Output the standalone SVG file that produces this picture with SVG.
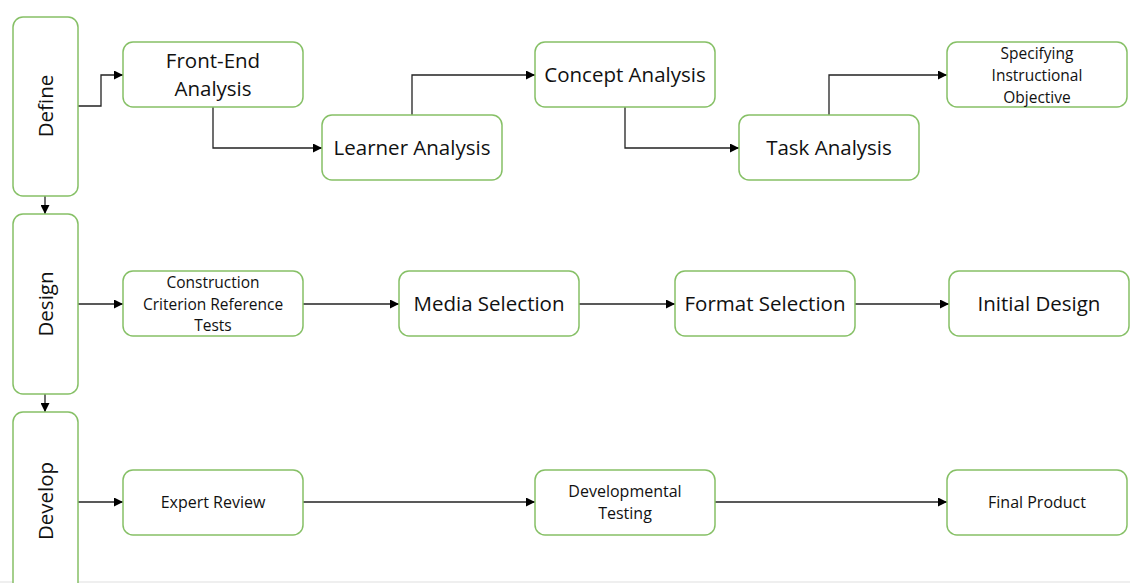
<svg xmlns="http://www.w3.org/2000/svg" width="1130" height="583" viewBox="0 0 1130 583">
  <defs>
    <marker id="arrow" viewBox="0 0 10 10" refX="10" refY="5" markerWidth="9" markerHeight="9" markerUnits="userSpaceOnUse" orient="auto">
      <path d="M0,0 L10,5 L0,10 z" fill="#000"/>
    </marker>
    <style>
      .box { fill: #fff; stroke: #86c066; stroke-width: 1.5; }
      .lbl { font-family: "Open Sans", "Noto Sans", "DejaVu Sans", sans-serif; fill: #111; text-anchor: middle; }
      .big { font-size: 20.5px; }
      .mid { font-size: 15.5px; }
      .sml { font-size: 16px; }
      .phase { font-size: 20.5px; }
      .conn { fill: none; stroke: #222; stroke-width: 1.3; marker-end: url(#arrow); }
    </style>
  </defs>
  <rect width="1130" height="583" fill="#fff"/>
  <rect x="0" y="581" width="1130" height="2" fill="#efefef"/>

  <g id="connectors">
    <path class="conn" d="M78,106 H101 V75 H123"/>
    <path class="conn" d="M213,107 V148 H322"/>
    <path class="conn" d="M412,115 V75 H535"/>
    <path class="conn" d="M625,107 V148 H739"/>
    <path class="conn" d="M829,115 V75 H947"/>
    <path class="conn" d="M45,196 V214"/>
    <path class="conn" d="M45,394 V412"/>
    <path class="conn" d="M78,304 H123"/>
    <path class="conn" d="M303,304 H399"/>
    <path class="conn" d="M579,304 H675"/>
    <path class="conn" d="M855,304 H949"/>
    <path class="conn" d="M78,502 H123"/>
    <path class="conn" d="M303,502 H535"/>
    <path class="conn" d="M715,502 H947"/>
  </g>

  <g id="define">
    <rect class="box" x="13" y="17" width="65" height="179" rx="10"/>
    <text class="lbl phase" transform="translate(53,106) rotate(-90)">Define</text>
  </g>
  <g id="design">
    <rect class="box" x="13" y="214" width="65" height="180" rx="10"/>
    <text class="lbl phase" transform="translate(53,304) rotate(-90)">Design</text>
  </g>
  <g id="develop">
    <rect class="box" x="13" y="412" width="65" height="200" rx="10"/>
    <text class="lbl phase" transform="translate(53,501) rotate(-90)">Develop</text>
  </g>

  <g id="front-end-analysis">
    <rect class="box" x="123" y="42" width="180" height="65" rx="10"/>
    <text class="lbl big" x="213" y="68">Front-End</text>
    <text class="lbl big" x="213" y="96">Analysis</text>
  </g>
  <g id="learner-analysis">
    <rect class="box" x="322" y="115" width="180" height="65" rx="10"/>
    <text class="lbl big" x="412" y="155">Learner Analysis</text>
  </g>
  <g id="concept-analysis">
    <rect class="box" x="535" y="42" width="180" height="65" rx="10"/>
    <text class="lbl big" x="625" y="82">Concept Analysis</text>
  </g>
  <g id="task-analysis">
    <rect class="box" x="739" y="115" width="180" height="65" rx="10"/>
    <text class="lbl big" x="829" y="155">Task Analysis</text>
  </g>
  <g id="specifying-instructional-objective">
    <rect class="box" x="947" y="42" width="180" height="65" rx="10"/>
    <text class="lbl mid" x="1037" y="59">Specifying</text>
    <text class="lbl mid" x="1037" y="81">Instructional</text>
    <text class="lbl mid" x="1037" y="103">Objective</text>
  </g>

  <g id="construction-criterion-reference-tests">
    <rect class="box" x="123" y="271" width="180" height="65" rx="10"/>
    <text class="lbl mid" x="213" y="288">Construction</text>
    <text class="lbl mid" x="213" y="310">Criterion Reference</text>
    <text class="lbl mid" x="213" y="331">Tests</text>
  </g>
  <g id="media-selection">
    <rect class="box" x="399" y="271" width="180" height="65" rx="10"/>
    <text class="lbl big" x="489" y="311">Media Selection</text>
  </g>
  <g id="format-selection">
    <rect class="box" x="675" y="271" width="180" height="65" rx="10"/>
    <text class="lbl big" x="765" y="311">Format Selection</text>
  </g>
  <g id="initial-design">
    <rect class="box" x="949" y="271" width="180" height="65" rx="10"/>
    <text class="lbl big" x="1039" y="311">Initial Design</text>
  </g>

  <g id="expert-review">
    <rect class="box" x="123" y="470" width="180" height="65" rx="10"/>
    <text class="lbl sml" x="213" y="508">Expert Review</text>
  </g>
  <g id="developmental-testing">
    <rect class="box" x="535" y="470" width="180" height="65" rx="10"/>
    <text class="lbl sml" x="625" y="497">Developmental</text>
    <text class="lbl sml" x="625" y="519">Testing</text>
  </g>
  <g id="final-product">
    <rect class="box" x="947" y="470" width="180" height="65" rx="10"/>
    <text class="lbl sml" x="1037" y="508">Final Product</text>
  </g>
</svg>
